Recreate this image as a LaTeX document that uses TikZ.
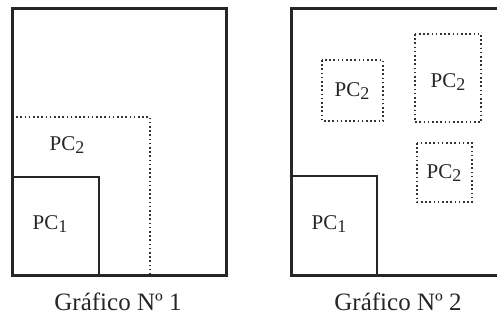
\documentclass[tikz,border=0pt]{standalone}
\usepackage{fontspec}
\setmainfont{Liberation Serif}
\begin{document}
\begin{tikzpicture}[x=1pt,y=-1pt,
  outer/.style={draw=black!85,line width=3pt},
  solidbox/.style={draw=black!85,line width=1.4pt},
  dotbox/.style={draw=black!80,line width=1.8pt,dash pattern=on 1.6pt off 2.6pt},
  lbl/.style={font=\fontsize{21}{21}\selectfont,text=black!85},
  captext/.style={font=\fontsize{25}{25}\selectfont,text=black!85}]
\useasboundingbox (0,0) rectangle (497,320);
\clip (0,0) rectangle (497,320);
\newcommand{\pcsub}[1]{PC\raisebox{-0.4ex}{\fontsize{18}{18}\selectfont #1}}
% left figure
\draw[dotbox] (12,117) -- (150,117) -- (150,275);
\draw[solidbox] (12,177) -- (99,177) -- (99,275);
\draw[outer] (12,9) rectangle (226,275);
\node[lbl] (l2) at (67,145) {\pcsub{2}};
\node[lbl] (l1) at (50,224) {\pcsub{1}};
\node[captext] (c1) at (118,302) {Gráfico Nº 1};
% right figure
\draw[dotbox] (322,60) rectangle (383,121);
\draw[dotbox] (415,34) rectangle (481,122);
\draw[dotbox] (417,143) rectangle (472,202);
\draw[solidbox] (291,176) -- (377,176) -- (377,275);
\draw[outer] (291,9) rectangle (502,275);
\node[lbl] (r2a) at (352,91) {\pcsub{2}};
\node[lbl] (r2b) at (448,82) {\pcsub{2}};
\node[lbl] (r2c) at (444,173) {\pcsub{2}};
\node[lbl] (r1) at (329,224) {\pcsub{1}};
\node[captext] (c2) at (398,302) {Gráfico Nº 2};
\end{tikzpicture}
\end{document}
